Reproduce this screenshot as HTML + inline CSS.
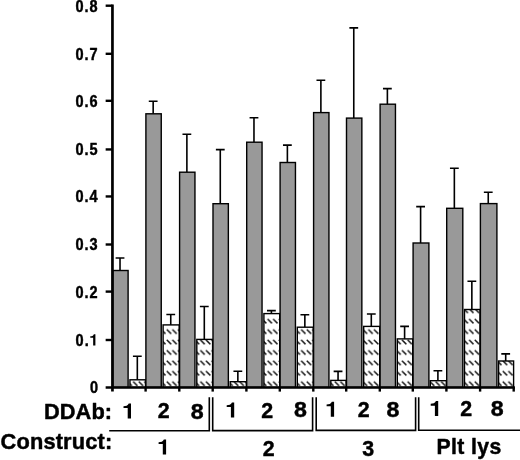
<!DOCTYPE html>
<html><head><meta charset="utf-8"><title>chart</title>
<style>
html,body{margin:0;padding:0;background:#fff;}
body{width:520px;height:460px;overflow:hidden;}
svg{display:block;filter:grayscale(1);}
text{font-family:"Liberation Sans",sans-serif;font-weight:bold;fill:#000;stroke:#000;stroke-width:0.45px;stroke-linejoin:round;}
.yl{font-size:16.9px;}
.dg{font-size:22.3px;}
.rl{font-size:21.8px;}
.cl{font-size:21.2px;}
</style></head><body>
<svg width="520" height="460" viewBox="0 0 520 460">
<defs><pattern id="h" patternUnits="userSpaceOnUse" x="3.65" y="5.7" width="5.6" height="10.42"><rect width="5.6" height="10.42" fill="#fff"/><path d="M0.7,0.7 L5.1,5.1" stroke="#111" stroke-width="1.4" fill="none"/></pattern></defs>
<rect width="520" height="460" fill="#fff"/>
<path d="M120.02,270.50 V258.00 M115.62,258.00 H124.42" stroke="#000" stroke-width="1.6" fill="none"/>
<path d="M137.32,379.80 V356.30 M132.92,356.30 H141.72" stroke="#000" stroke-width="1.6" fill="none"/>
<rect x="112.75" y="270.50" width="15.35" height="116.90" fill="#999" stroke="#000" stroke-width="1.4"/>
<rect x="129.95" y="379.80" width="15.55" height="7.60" fill="url(#h)" stroke="#000" stroke-width="1.4"/>
<path d="M153.17,113.80 V101.20 M148.77,101.20 H157.57" stroke="#000" stroke-width="1.6" fill="none"/>
<path d="M170.75,324.90 V314.50 M166.35,314.50 H175.15" stroke="#000" stroke-width="1.6" fill="none"/>
<rect x="145.90" y="113.80" width="15.35" height="273.60" fill="#999" stroke="#000" stroke-width="1.4"/>
<rect x="163.10" y="324.90" width="16.10" height="62.50" fill="url(#h)" stroke="#000" stroke-width="1.4"/>
<path d="M186.88,172.20 V134.20 M182.48,134.20 H191.28" stroke="#000" stroke-width="1.6" fill="none"/>
<path d="M204.30,339.40 V306.50 M199.90,306.50 H208.70" stroke="#000" stroke-width="1.6" fill="none"/>
<rect x="179.60" y="172.20" width="15.35" height="215.20" fill="#999" stroke="#000" stroke-width="1.4"/>
<rect x="196.80" y="339.40" width="15.80" height="48.00" fill="url(#h)" stroke="#000" stroke-width="1.4"/>
<path d="M220.28,203.70 V149.60 M215.88,149.60 H224.68" stroke="#000" stroke-width="1.6" fill="none"/>
<path d="M237.85,381.70 V371.30 M233.45,371.30 H242.25" stroke="#000" stroke-width="1.6" fill="none"/>
<rect x="213.00" y="203.70" width="15.35" height="183.70" fill="#999" stroke="#000" stroke-width="1.4"/>
<rect x="230.20" y="381.70" width="16.10" height="5.70" fill="url(#h)" stroke="#000" stroke-width="1.4"/>
<path d="M253.97,142.20 V117.80 M249.57,117.80 H258.38" stroke="#000" stroke-width="1.6" fill="none"/>
<path d="M271.40,313.60 V310.60 M267.00,310.60 H275.80" stroke="#000" stroke-width="1.6" fill="none"/>
<rect x="246.70" y="142.20" width="15.35" height="245.20" fill="#999" stroke="#000" stroke-width="1.4"/>
<rect x="263.90" y="313.60" width="15.80" height="73.80" fill="url(#h)" stroke="#000" stroke-width="1.4"/>
<path d="M287.38,162.50 V145.10 M282.98,145.10 H291.77" stroke="#000" stroke-width="1.6" fill="none"/>
<path d="M304.85,327.20 V314.70 M300.45,314.70 H309.25" stroke="#000" stroke-width="1.6" fill="none"/>
<rect x="280.10" y="162.50" width="15.35" height="224.90" fill="#999" stroke="#000" stroke-width="1.4"/>
<rect x="297.30" y="327.20" width="15.90" height="60.20" fill="url(#h)" stroke="#000" stroke-width="1.4"/>
<path d="M320.88,112.60 V80.20 M316.48,80.20 H325.27" stroke="#000" stroke-width="1.6" fill="none"/>
<path d="M338.05,380.40 V371.40 M333.65,371.40 H342.45" stroke="#000" stroke-width="1.6" fill="none"/>
<rect x="313.60" y="112.60" width="15.35" height="274.80" fill="#999" stroke="#000" stroke-width="1.4"/>
<rect x="330.80" y="380.40" width="15.30" height="7.00" fill="url(#h)" stroke="#000" stroke-width="1.4"/>
<path d="M353.77,118.10 V27.90 M349.38,27.90 H358.17" stroke="#000" stroke-width="1.6" fill="none"/>
<path d="M371.30,326.40 V314.00 M366.90,314.00 H375.70" stroke="#000" stroke-width="1.6" fill="none"/>
<rect x="346.50" y="118.10" width="15.35" height="269.30" fill="#999" stroke="#000" stroke-width="1.4"/>
<rect x="363.70" y="326.40" width="16.00" height="61.00" fill="url(#h)" stroke="#000" stroke-width="1.4"/>
<path d="M387.38,104.20 V88.60 M382.98,88.60 H391.77" stroke="#000" stroke-width="1.6" fill="none"/>
<path d="M404.60,338.90 V326.40 M400.20,326.40 H409.00" stroke="#000" stroke-width="1.6" fill="none"/>
<rect x="380.10" y="104.20" width="15.35" height="283.20" fill="#999" stroke="#000" stroke-width="1.4"/>
<rect x="397.30" y="338.90" width="15.40" height="48.50" fill="url(#h)" stroke="#000" stroke-width="1.4"/>
<path d="M420.60,243.00 V206.60 M416.20,206.60 H425.00" stroke="#000" stroke-width="1.6" fill="none"/>
<path d="M437.90,380.70 V370.70 M433.50,370.70 H442.30" stroke="#000" stroke-width="1.6" fill="none"/>
<rect x="413.10" y="243.00" width="15.80" height="144.40" fill="#999" stroke="#000" stroke-width="1.4"/>
<rect x="430.30" y="380.70" width="16.00" height="6.70" fill="url(#h)" stroke="#000" stroke-width="1.4"/>
<path d="M454.35,208.30 V168.30 M449.95,168.30 H458.75" stroke="#000" stroke-width="1.6" fill="none"/>
<path d="M471.85,309.50 V281.30 M467.45,281.30 H476.25" stroke="#000" stroke-width="1.6" fill="none"/>
<rect x="446.70" y="208.30" width="16.10" height="179.10" fill="#999" stroke="#000" stroke-width="1.4"/>
<rect x="464.50" y="309.50" width="15.50" height="77.90" fill="url(#h)" stroke="#000" stroke-width="1.4"/>
<path d="M488.25,203.60 V192.20 M483.85,192.20 H492.65" stroke="#000" stroke-width="1.6" fill="none"/>
<path d="M505.70,361.00 V353.90 M501.30,353.90 H510.10" stroke="#000" stroke-width="1.6" fill="none"/>
<rect x="480.40" y="203.60" width="16.50" height="183.80" fill="#999" stroke="#000" stroke-width="1.4"/>
<rect x="498.60" y="361.00" width="15.00" height="26.40" fill="url(#h)" stroke="#000" stroke-width="1.4"/>
<path d="M112.45,4.5 V391.60" stroke="#000" stroke-width="2.7" fill="none"/>
<path d="M105.65,387.40 H514.90" stroke="#000" stroke-width="2.5" fill="none"/>
<path d="M105.65,340.00 H112.45" stroke="#000" stroke-width="2.4" fill="none"/>
<path d="M105.65,291.60 H112.45" stroke="#000" stroke-width="2.4" fill="none"/>
<path d="M105.65,244.50 H112.45" stroke="#000" stroke-width="2.4" fill="none"/>
<path d="M105.65,196.45 H112.45" stroke="#000" stroke-width="2.4" fill="none"/>
<path d="M105.65,149.45 H112.45" stroke="#000" stroke-width="2.4" fill="none"/>
<path d="M105.65,100.80 H112.45" stroke="#000" stroke-width="2.4" fill="none"/>
<path d="M105.65,53.80 H112.45" stroke="#000" stroke-width="2.4" fill="none"/>
<path d="M105.65,5.70 H112.45" stroke="#000" stroke-width="2.4" fill="none"/>
<path d="M145.60,387.40 V391.60" stroke="#000" stroke-width="2.4" fill="none"/>
<path d="M179.30,387.40 V391.60" stroke="#000" stroke-width="2.4" fill="none"/>
<path d="M212.70,387.40 V391.60" stroke="#000" stroke-width="2.4" fill="none"/>
<path d="M246.40,387.40 V391.60" stroke="#000" stroke-width="2.4" fill="none"/>
<path d="M279.80,387.40 V391.60" stroke="#000" stroke-width="2.4" fill="none"/>
<path d="M313.30,387.40 V391.60" stroke="#000" stroke-width="2.4" fill="none"/>
<path d="M346.20,387.40 V391.60" stroke="#000" stroke-width="2.4" fill="none"/>
<path d="M379.80,387.40 V391.60" stroke="#000" stroke-width="2.4" fill="none"/>
<path d="M412.80,387.40 V391.60" stroke="#000" stroke-width="2.4" fill="none"/>
<path d="M446.40,387.40 V391.60" stroke="#000" stroke-width="2.4" fill="none"/>
<path d="M480.10,387.40 V391.60" stroke="#000" stroke-width="2.4" fill="none"/>
<path d="M513.70,387.40 V391.60" stroke="#000" stroke-width="2.4" fill="none"/>
<text transform="translate(98.00,393.30) scale(0.86,1)" text-anchor="end" class="yl">0</text>
<text transform="translate(89.70,345.90) scale(0.86,1)" text-anchor="end" class="yl" style="letter-spacing:1.15px">0.</text>
<path d="M95.40,345.60 L93.16,345.60 L93.16,337.73 L90.30,337.73 L90.30,336.31 C91.83,336.25 93.36,335.80 93.87,334.20 L95.40,334.20 Z" fill="#000"/>
<text transform="translate(98.70,297.50) scale(0.86,1)" text-anchor="end" class="yl" style="letter-spacing:1.15px">0.2</text>
<text transform="translate(98.70,250.40) scale(0.86,1)" text-anchor="end" class="yl" style="letter-spacing:1.15px">0.3</text>
<text transform="translate(98.70,202.35) scale(0.86,1)" text-anchor="end" class="yl" style="letter-spacing:1.15px">0.4</text>
<text transform="translate(98.70,155.35) scale(0.86,1)" text-anchor="end" class="yl" style="letter-spacing:1.15px">0.5</text>
<text transform="translate(98.70,106.70) scale(0.86,1)" text-anchor="end" class="yl" style="letter-spacing:1.15px">0.6</text>
<text transform="translate(98.70,59.70) scale(0.86,1)" text-anchor="end" class="yl" style="letter-spacing:1.15px">0.7</text>
<text transform="translate(98.70,12.00) scale(0.86,1)" text-anchor="end" class="yl" style="letter-spacing:1.15px">0.8</text>
<path d="M131.00,418.40 L127.70,418.40 L127.70,408.05 L123.50,408.05 L123.50,406.17 C125.75,406.10 128.00,405.50 128.75,403.40 L131.00,403.40 Z" fill="#000"/>
<text transform="translate(163.60,418.30) scale(0.96,1)" text-anchor="middle" class="dg">2</text>
<text transform="translate(197.30,418.50) scale(1.04,1)" text-anchor="middle" class="dg">8</text>
<path d="M234.20,417.40 L230.90,417.40 L230.90,407.05 L226.70,407.05 L226.70,405.17 C228.95,405.10 231.20,404.50 231.95,402.40 L234.20,402.40 Z" fill="#000"/>
<text transform="translate(267.30,417.50) scale(0.96,1)" text-anchor="middle" class="dg">2</text>
<text transform="translate(300.50,417.40) scale(1.04,1)" text-anchor="middle" class="dg">8</text>
<path d="M334.10,416.70 L330.80,416.70 L330.80,406.35 L326.60,406.35 L326.60,404.47 C328.85,404.40 331.10,403.80 331.85,401.70 L334.10,401.70 Z" fill="#000"/>
<text transform="translate(363.60,416.60) scale(0.96,1)" text-anchor="middle" class="dg">2</text>
<text transform="translate(393.00,416.90) scale(1.04,1)" text-anchor="middle" class="dg">8</text>
<path d="M438.20,416.00 L434.90,416.00 L434.90,405.65 L430.70,405.65 L430.70,403.77 C432.95,403.70 435.20,403.10 435.95,401.00 L438.20,401.00 Z" fill="#000"/>
<text transform="translate(466.30,415.60) scale(0.96,1)" text-anchor="middle" class="dg">2</text>
<text transform="translate(497.20,416.00) scale(1.04,1)" text-anchor="middle" class="dg">8</text>
<text x="112.2" y="419.4" text-anchor="end" class="rl" style="letter-spacing:0.1px">DDAb:</text>
<text x="112.3" y="448.8" text-anchor="end" class="rl" style="letter-spacing:0.15px">Construct:</text>
<path d="M109.2,430.80 H209.30 V397.3" stroke="#000" stroke-width="1.6" fill="none"/>
<path d="M212.70,397.3 V430.60 H312.60 V397.3" stroke="#000" stroke-width="1.6" fill="none"/>
<path d="M316.20,397.3 V430.40 H415.60 V397.3" stroke="#000" stroke-width="1.6" fill="none"/>
<path d="M418.70,397.3 V430.20 H521" stroke="#000" stroke-width="1.6" fill="none"/>
<path d="M166.10,454.40 L162.80,454.40 L162.80,444.05 L158.60,444.05 L158.60,442.17 C160.85,442.10 163.10,441.50 163.85,439.40 L166.10,439.40 Z" fill="#000"/>
<text transform="translate(268.60,455.60) scale(0.96,1)" text-anchor="middle" class="dg">2</text>
<text transform="translate(368.20,455.80) scale(0.96,1)" text-anchor="middle" class="dg">3</text>
<text x="469.1" y="454.2" text-anchor="middle" class="cl" style="letter-spacing:0.4px">Plt lys</text>
</svg>
</body></html>
